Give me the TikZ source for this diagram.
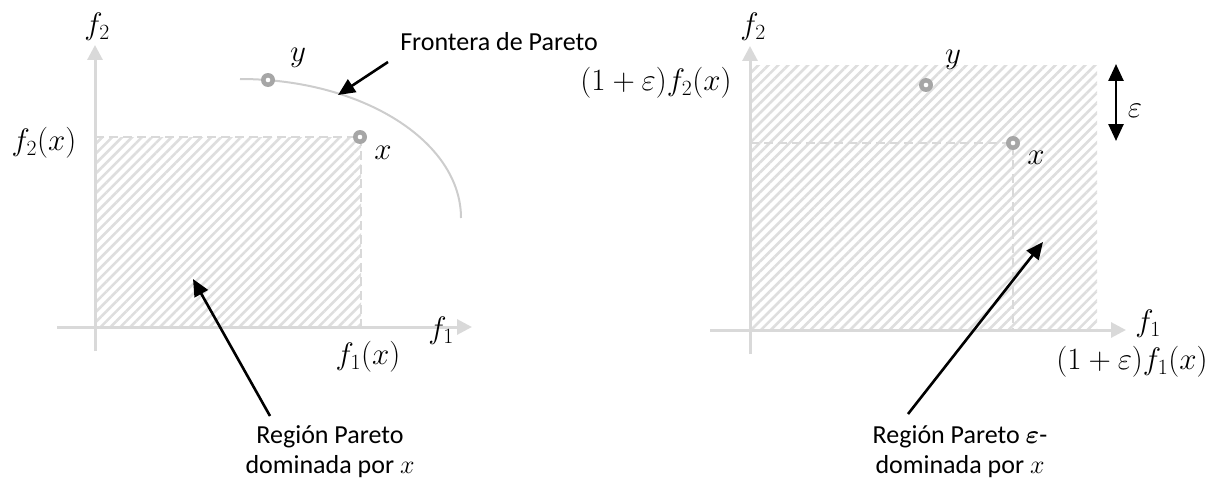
\RequirePackage{fix-cm}
\documentclass[tikz,border=0pt]{standalone}
\usepackage{fontspec}
\setmainfont{Carlito}
\usepackage{amsmath,bm}
\usetikzlibrary{arrows.meta,patterns.meta}
\definecolor{axisgray}{RGB}{217,217,217}
\definecolor{hatchgray}{RGB}{222,222,222}
\definecolor{curvegray}{RGB}{205,205,205}
\definecolor{ptgray}{RGB}{166,166,166}
\begin{document}
\begin{tikzpicture}[x=1pt,y=-1pt,
  axis/.style={draw=axisgray,line width=3pt,-{Triangle[length=15pt,width=15pt]}},
  dashline/.style={draw=axisgray,line width=2.2pt,dash pattern=on 9pt off 5pt},
  curveline/.style={draw=curvegray,line width=2pt},
  hatch/.style={pattern={Lines[angle=45,distance=7pt,line width=2.6pt]},pattern color=hatchgray},
  pt/.style={circle,fill=ptgray,minimum size=14pt,inner sep=0pt,
    path picture={\fill[white] (path picture bounding box.center) circle (2.3pt);}},
  mlab/.style={inner sep=0pt,font=\fontsize{31}{36}\selectfont},
  txt/.style={inner sep=0pt,font=\fontsize{26}{30}\selectfont},
  blk/.style={draw=black,line width=2.6pt,-{Triangle[length=17pt,width=15pt]}},
  eps/.style={draw=black,line width=2.6pt,{Triangle[length=17pt,width=15pt]}-{Triangle[length=17pt,width=15pt]}}
]
\useasboundingbox (0,0) rectangle (1221,487);

% ---------- left panel ----------
\fill[hatch] (95,137) rectangle (361,327);
\draw[axis] (57,327) -- (472,327);
\draw[axis] (95,351) -- (95,45);
\draw[dashline] (95,137) -- (361,137) -- (361,327);
\draw[curveline] (240,79) arc[start angle=-90,end angle=0,x radius=221,y radius=139];
\node[pt] (py) at (268,80) {};
\node[pt] (px) at (360,137) {};

\node[mlab] (f2l) at (97,27) {$f_2$};
\node[mlab] (f2x) at (44,143) {$f_2(x)$};
\node[mlab] (xl) at (383,153) {$x$};
\node[mlab] (yl) at (298,58) {$y$};
\node[mlab] (f1l) at (441,331) {$f_1$};
\node[mlab] (f1x) at (368,357) {$f_1(x)$};
\node[txt] (front) at (499,42) {Frontera de Pareto};
\node[txt,align=center] (reg1) at (330,452) {Región Pareto\\dominada por $x$};

\coordinate (fs) at (388,62);
\coordinate (ft) at (338,95);
\draw[blk] (fs) -- (ft);
\coordinate (r1s) at (270,416);
\coordinate (r1t) at (193,279);
\draw[blk] (r1s) -- (r1t);

% ---------- right panel ----------
\fill[hatch] (750,66) rectangle (1097,330);
\draw[axis] (710,330) -- (1126,330);
\draw[axis] (750,354) -- (750,46);
\draw[dashline] (750,143) -- (1013,143) -- (1013,330);
\node[pt] (qy) at (926,85) {};
\node[pt] (qx) at (1013,143) {};

\node[mlab] (g2l) at (753,27) {$f_2$};
\node[mlab] (g2x) at (656,83) {$(1+\varepsilon)f_2(x)$};
\node[mlab] (yl2) at (953,60) {$y$};
\node[mlab] (xl2) at (1036,158) {$x$};
\node[mlab] (epsl) at (1135,111) {$\varepsilon$};
\node[mlab] (g1l) at (1148,324) {$f_1$};
\node[mlab] (g1x) at (1132,362) {$(1+\varepsilon)f_1(x)$};
\node[txt,align=center] (reg2) at (960,452) {Región Pareto $\bm{\varepsilon}$-\\dominada por $x$};

\coordinate (e1) at (1116,64);
\coordinate (e2) at (1116,141);
\draw[eps] (e1) -- (e2);
\coordinate (r2s) at (908,414);
\coordinate (r2t) at (1043,242);
\draw[blk] (r2s) -- (r2t);
\end{tikzpicture}
\end{document}
